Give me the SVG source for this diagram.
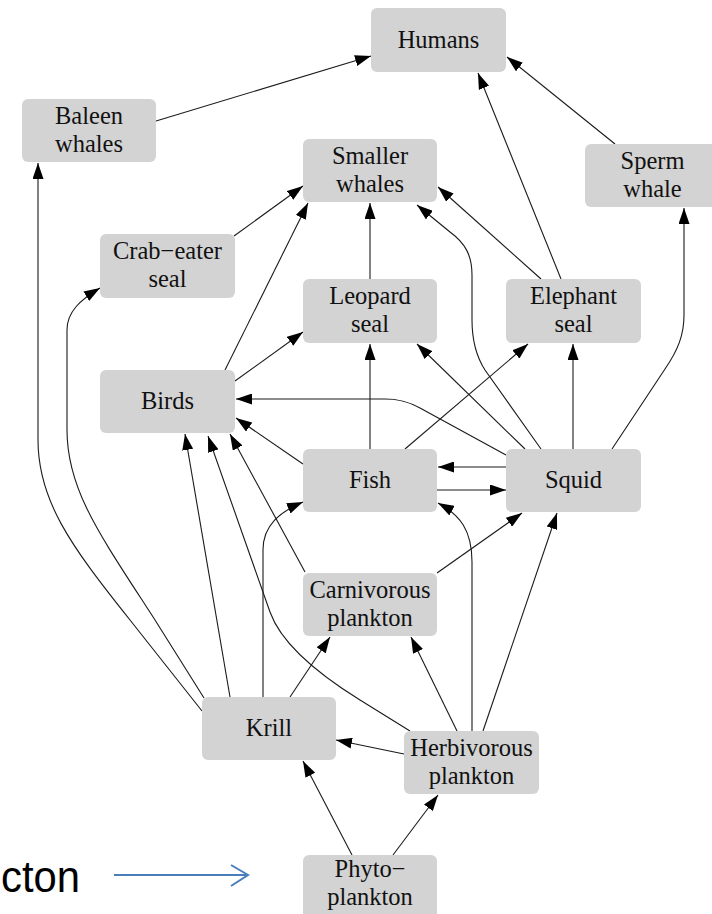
<svg xmlns="http://www.w3.org/2000/svg" width="712" height="914" viewBox="0 0 712 914">
<defs>
<style>
.n rect{fill:#d3d3d3;}
.n text{font-family:"Liberation Serif","Times New Roman",serif;font-size:24.5px;fill:#111;text-anchor:middle;}
.e path{fill:none;stroke:#1a1a1a;stroke-width:1.1;marker-end:url(#ah);}
</style>
<marker id="ah" markerUnits="userSpaceOnUse" markerWidth="16" markerHeight="11" refX="16" refY="5.5" orient="auto">
<path d="M0,0 L16,5.5 L0,11 z" fill="#000"/>
</marker>
</defs>
<rect width="712" height="914" fill="#fff"/>
<g id="edges" class="e">
<path d="M156,121 L371,56"/>
<path d="M561,279 L478,73"/>
<path d="M615,144 L507,57"/>
<path d="M234,236 L303,186"/>
<path d="M225,370 L308,203"/>
<path d="M370,279 L370,203"/>
<path d="M541,449 L485,370 C 476,356 472,340 472,320 L472,275 C 472,255 465,243 450,232 L417,205"/>
<path d="M541,279 L438,187"/>
<path d="M612,449 L665,369 C 678,350 684,335 684,315 L684,208"/>
<path d="M202,711 L130,620 C 70,545 38,500 38,440 L38,163"/>
<path d="M204,698 L155,620 C 100,535 67,490 67,430 L67,330 C 67,312 80,300 100,288"/>
<path d="M230,697 L185,434"/>
<path d="M263,697 L263,550 C 263,525 280,512 303,502"/>
<path d="M290,697 L330,637"/>
<path d="M410,731 L360,700 C 310,669 280,640 270,612 L208,436"/>
<path d="M305,572 L230,434"/>
<path d="M303,464 L236,418"/>
<path d="M506,455 L420,408 C 405,400 395,399 385,399 L236,399"/>
<path d="M235,381 L303,332"/>
<path d="M370,449 L370,344"/>
<path d="M525,449 L417,344"/>
<path d="M405,449 L528,344"/>
<path d="M573,449 L573,344"/>
<path d="M506,467 L438,467"/>
<path d="M437,490 L506,490"/>
<path d="M472,731 L472,562 C 472,530 460,515 438,503"/>
<path d="M437,573 L522,513"/>
<path d="M483,731 L557,513"/>
<path d="M457,731 L411,637"/>
<path d="M404,754 L336,740"/>
<path d="M352,855 L303,761"/>
<path d="M393,855 L438,795"/>
</g>
<g id="humans" class="n"><rect x="371" y="8" width="135" height="64" rx="6"/><text x="438.5" y="48">Humans</text></g>
<g id="baleen" class="n"><rect x="22" y="99" width="134" height="63" rx="6"/><text x="89" y="124">Baleen</text><text x="89" y="152">whales</text></g>
<g id="smaller" class="n"><rect x="303" y="139" width="134" height="63" rx="6"/><text x="370" y="164">Smaller</text><text x="370" y="192">whales</text></g>
<g id="sperm" class="n"><rect x="585" y="144" width="135" height="63" rx="6"/><text x="652.5" y="169">Sperm</text><text x="652.5" y="197">whale</text></g>
<g id="crab" class="n"><rect x="100" y="234" width="135" height="64" rx="6"/><text x="167.5" y="259">Crab−eater</text><text x="167.5" y="287">seal</text></g>
<g id="leopard" class="n"><rect x="303" y="279" width="134" height="64" rx="6"/><text x="370" y="304">Leopard</text><text x="370" y="332">seal</text></g>
<g id="elephant" class="n"><rect x="506" y="279" width="135" height="64" rx="6"/><text x="573.5" y="304">Elephant</text><text x="573.5" y="332">seal</text></g>
<g id="birds" class="n"><rect x="100" y="370" width="135" height="63" rx="6"/><text x="167.5" y="409">Birds</text></g>
<g id="fish" class="n"><rect x="303" y="449" width="134" height="63" rx="6"/><text x="370" y="488">Fish</text></g>
<g id="squid" class="n"><rect x="506" y="449" width="135" height="63" rx="6"/><text x="573.5" y="488">Squid</text></g>
<g id="carnivorous" class="n"><rect x="303" y="573" width="134" height="63" rx="6"/><text x="370" y="598">Carnivorous</text><text x="370" y="626">plankton</text></g>
<g id="krill" class="n"><rect x="202" y="697" width="134" height="63" rx="6"/><text x="269" y="736">Krill</text></g>
<g id="herbivorous" class="n"><rect x="404" y="731" width="135" height="63" rx="6"/><text x="471.5" y="756">Herbivorous</text><text x="471.5" y="784">plankton</text></g>
<g id="phyto" class="n"><rect x="303" y="855" width="134" height="64" rx="6"/><text x="370" y="877">Phyto−</text><text x="370" y="905">plankton</text></g>
<g id="annotation">
<text x="1" y="892" font-family="'Liberation Sans',Arial,sans-serif" font-size="45" textLength="79" lengthAdjust="spacingAndGlyphs" fill="#000">cton</text>
<line x1="114" y1="875" x2="248" y2="875" stroke="#4a7ebb" stroke-width="2"/>
<polyline points="231,865 248,875 231,886" fill="none" stroke="#4a7ebb" stroke-width="2"/>
</g>
</svg>
